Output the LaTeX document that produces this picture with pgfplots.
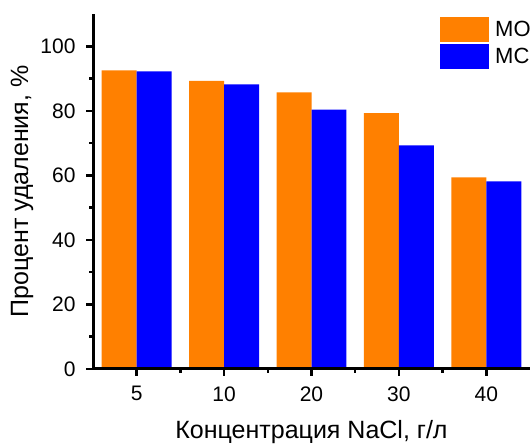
\documentclass[border=0pt]{standalone}
\usepackage{pgfplots}
\pgfplotsset{compat=1.18}
\usepackage{fontspec}
\setmainfont{Liberation Sans}
\definecolor{mo}{HTML}{FF8000}
\definecolor{mc}{HTML}{0000FF}
\begin{document}
\begin{tikzpicture}
\begin{axis}[
 at={(93pt,75pt)}, anchor=south west,
 scale only axis, width=437pt, height=355pt,
 xmin=-0.5, xmax=4.5, ymin=0, ymax=110,
 axis x line*=bottom, axis y line*=left,
 axis line style={line width=3pt, -},
 axis on top,
 xtick={0,...,4}, xticklabels={5,10,20,30,40},
 minor xtick={0.5,1.5,2.5,3.5},
 ytick={0,20,...,100}, minor ytick={10,30,...,90},
 tick align=outside,
 major tick length=7pt, minor tick length=4pt,
 every tick/.style={black, line width=2.5pt},
 ticklabel style={font=\fontsize{21}{25}\selectfont},
 xticklabel style={yshift=-7pt},
 yticklabel style={xshift=-7pt},
 /pgf/number format/assume math mode=true,
 ylabel={Процент удаления, \%},
 xlabel={Концентрация NaCl, г/л},
 every axis y label/.style={at={(axis description cs:-0.1625,0.5)}, anchor=center, rotate=90, font=\fontsize{25}{30}\selectfont},
 every axis x label/.style={at={(axis description cs:0.5,-0.178)}, anchor=center, font=\fontsize{25}{30}\selectfont},
 legend image code/.code={\path[#1] (0pt,-12.5pt) rectangle (49pt,12.5pt);},
 legend style={at={(axis description cs:0.794,0.992)}, anchor=north west, draw=none, fill=none,
   inner sep=0pt, row sep=2pt, column sep=3pt, font=\fontsize{22}{24}\selectfont,
   nodes={inner xsep=3pt, inner ysep=0pt}},
 legend cell align=left,
]
\addplot[ybar, bar width=0.4, bar shift=-0.2, fill=mo, draw=none] coordinates {(0,92.5) (1,89.3) (2,85.7) (3,79.3) (4,59.4)};
\addplot[ybar, bar width=0.4, bar shift=0.2, fill=mc, draw=none] coordinates {(0,92.2) (1,88.2) (2,80.4) (3,69.3) (4,58.1)};
\legend{МО, МС}
\end{axis}
\pgfresetboundingbox
\path[use as bounding box] (0,0) rectangle (530pt,444pt);
\end{tikzpicture}
\end{document}
